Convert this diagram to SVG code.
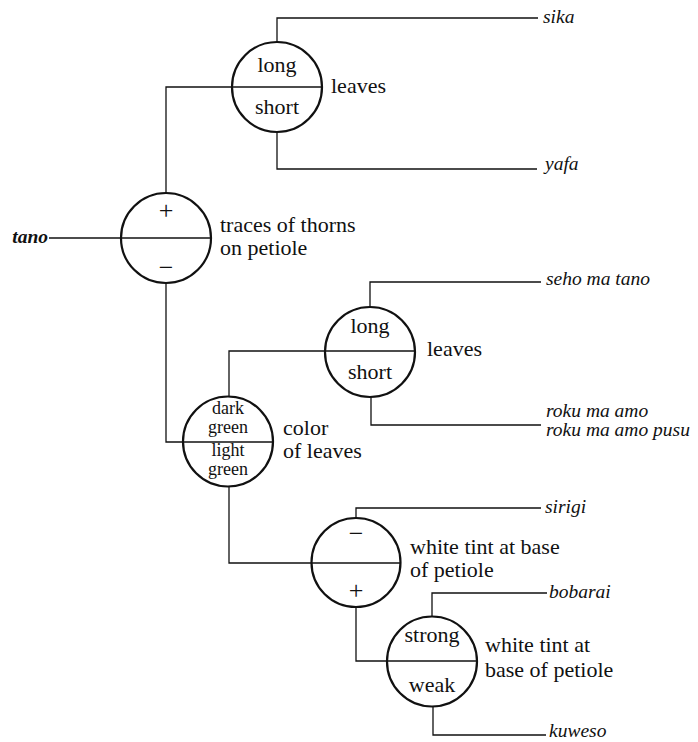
<svg xmlns="http://www.w3.org/2000/svg" width="698" height="742" viewBox="0 0 698 742" font-family="'Liberation Serif', 'Times New Roman', 'DejaVu Serif', serif">
<style>
  .bg { fill: #ffffff; }
  .node circle { fill: none; stroke: #111; stroke-width: 2.2; }
  .node line { stroke: #111; stroke-width: 1.6; }
  .conn path { fill: none; stroke: #111; stroke-width: 1.3; }
  text { font-family: "Liberation Serif", "Times New Roman", "DejaVu Serif", serif; fill: #111; }
  .in { font-size: 22px; text-anchor: middle; }
  .in2 { font-size: 18px; text-anchor: middle; }
  .sign { font-size: 26px; text-anchor: middle; }
  .lbl { font-size: 22px; }
  .leaf { font-size: 19.5px; font-style: italic; }
</style>
<rect class="bg" x="0" y="0" width="698" height="742"/>

<g id="connectors" class="conn">
  <path d="M49 238 H121"/>
  <path d="M232 87 H166 V193"/>
  <path d="M277 42 V18 H538"/>
  <path d="M277 132 V169 H537"/>
  <path d="M166 283 V442 H183"/>
  <path d="M325 351 H229 V396"/>
  <path d="M370 307 V282 H541"/>
  <path d="M371 397 V425 H541"/>
  <path d="M229 487 V563 H312"/>
  <path d="M356 518 V508 H541"/>
  <path d="M356 607 V661 H387"/>
  <path d="M432 617 V593 H547"/>
  <path d="M433 706 V735 H546"/>
</g>

<g id="leaf-tano"><text class="leaf" x="48" y="243" text-anchor="end" font-weight="bold">tano</text></g>

<g id="node-thorns" class="node">
  <circle cx="166" cy="238" r="45"/>
  <line x1="121" y1="238" x2="211" y2="238"/>
  <text class="sign" x="166" y="219">+</text>
  <text class="sign" x="166" y="276">−</text>
  <text class="lbl" x="220" y="232">traces of thorns<tspan x="220" dy="23">on petiole</tspan></text>
</g>

<g id="node-leaves1" class="node">
  <circle cx="277" cy="87" r="45"/>
  <line x1="232" y1="87" x2="322" y2="87"/>
  <text class="in" x="277" y="72">long</text>
  <text class="in" x="277" y="114">short</text>
  <text class="lbl" x="331" y="93">leaves</text>
</g>

<g id="leaf-sika"><text class="leaf" x="543" y="23">sika</text></g>
<g id="leaf-yafa"><text class="leaf" x="545" y="170">yafa</text></g>

<g id="node-leaves2" class="node">
  <circle cx="370" cy="352" r="45"/>
  <line x1="325" y1="351" x2="415" y2="351"/>
  <text class="in" x="370" y="333">long</text>
  <text class="in" x="370" y="379">short</text>
  <text class="lbl" x="427" y="356">leaves</text>
</g>

<g id="leaf-seho"><text class="leaf" x="546" y="285">seho ma tano</text></g>
<g id="leaf-roku"><text class="leaf" x="546" y="417">roku ma amo<tspan x="546" dy="19">roku ma amo pusu</tspan></text></g>

<g id="node-color" class="node">
  <circle cx="228" cy="441.5" r="45"/>
  <line x1="183" y1="442" x2="273" y2="442"/>
  <text class="in2" x="228" y="414">dark<tspan x="228" dy="19">green</tspan></text>
  <text class="in2" x="228" y="456">light<tspan x="228" dy="19">green</tspan></text>
  <text class="lbl" x="283" y="435">color<tspan x="283" dy="23">of leaves</tspan></text>
</g>

<g id="node-tint1" class="node">
  <circle cx="356" cy="562.5" r="44.5"/>
  <line x1="311.5" y1="563" x2="400.5" y2="563"/>
  <text class="sign" x="356" y="542">−</text>
  <text class="sign" x="356" y="599">+</text>
  <text class="lbl" x="410" y="554">white tint at base<tspan x="410" dy="23">of petiole</tspan></text>
</g>

<g id="leaf-sirigi"><text class="leaf" x="545" y="513">sirigi</text></g>
<g id="leaf-bobarai"><text class="leaf" x="549" y="598">bobarai</text></g>

<g id="node-tint2" class="node">
  <circle cx="432" cy="661.5" r="45"/>
  <line x1="387" y1="661" x2="477" y2="661"/>
  <text class="in" x="432" y="642">strong</text>
  <text class="in" x="432" y="692">weak</text>
  <text class="lbl" x="485" y="652">white tint at<tspan x="485" dy="25">base of petiole</tspan></text>
</g>

<g id="leaf-kuweso"><text class="leaf" x="549" y="737">kuweso</text></g>
</svg>
